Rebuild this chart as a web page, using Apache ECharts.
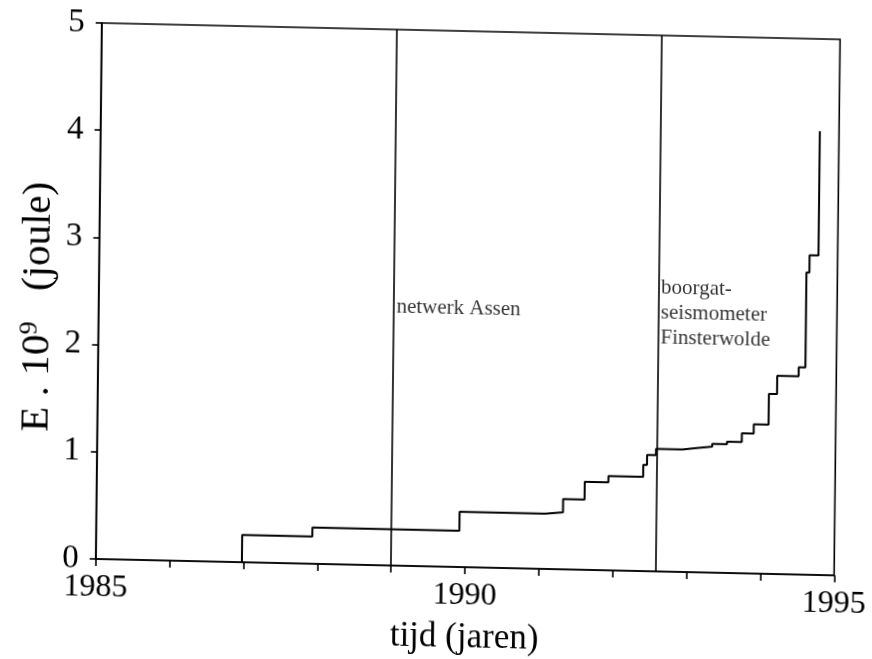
<!DOCTYPE html>
<html>
<head>
<meta charset="utf-8">
<script src="https://cdn.jsdelivr.net/npm/echarts@6/dist/echarts.min.js"></script>
<style>
  html, body { margin: 0; padding: 0; background: #fff; overflow: hidden; }
  /* the printed figure sits slightly askew on the page */
  #chart {
    position: absolute; left: 0; top: 0; width: 872px; height: 659px;
    transform-origin: 95.7px 559px;
    transform: matrix(1, 0.0222, -0.0112, 1, 0, 0);
  }
</style>
</head>
<body>
<div id="chart"></div>
<script>
// cumulative seismic energy: each entry starts a new level (year, E in 10^9 J)
const stepYears = [1986.98, 1986.98, 1987.93, 1989.92, 1991.08, 1991.32, 1991.61, 1991.93,
                   1992.40, 1992.45, 1992.57, 1992.93, 1993.12, 1993.33, 1993.53, 1993.73,
                   1993.89, 1994.09, 1994.20, 1994.49, 1994.58, 1994.62, 1994.74];
const stepEnergy = [0, 0.255, 0.337, 0.516, 0.532, 0.655, 0.82, 0.88,
                    0.99, 1.084, 1.143, 1.16, 1.176, 1.2, 1.225, 1.306,
                    1.393, 1.679, 1.85, 1.934, 2.82, 2.98, 4.14];

// network changes marked by vertical lines
const markerYears = [1989.0, 1992.58];
const markerLabels = ['netwerk Assen', 'boorgat-\nseismometer\nFinsterwolde'];
const markerLabelLevel = 2.41;

const xLabelYears = [1985, 1990, 1995];
const yTicks = [0, 1, 2, 3, 4, 5];

const serif = '"Liberation Serif", "Times New Roman", serif';
const black = '#000';

const chart = echarts.init(document.getElementById('chart'), null, { renderer: 'canvas' });

chart.setOption({
  animation: false,
  backgroundColor: 'transparent',
  grid: {
    left: 95.7, right: 37.7, top: 23, bottom: 100,
    show: true, borderColor: black, borderWidth: 1.6
  },
  xAxis: {
    type: 'value', min: 1985, max: 1995, interval: 1,
    axisLine: { onZero: false, lineStyle: { color: black, width: 1.6 } },
    axisTick: { length: 7, lineStyle: { color: black, width: 1.6 } },
    splitLine: { show: false },
    axisLabel: {
      margin: 13, fontSize: 32, fontFamily: serif, color: black,
      formatter: v => xLabelYears.includes(v) ? String(v) : ''
    },
    name: 'tijd (jaren)', nameLocation: 'middle', nameGap: 53,
    nameTextStyle: { fontSize: 35, fontFamily: serif, color: black }
  },
  yAxis: {
    type: 'value', min: yTicks[0], max: yTicks[yTicks.length - 1], interval: 1,
    axisLine: { lineStyle: { color: black, width: 1.6 } },
    axisTick: { length: 6, lineStyle: { color: black, width: 1.6 } },
    splitLine: { show: false },
    axisLabel: { margin: 17, fontSize: 33, fontFamily: serif, color: black }
  },
  graphic: [{
    type: 'text',
    x: 35, y: 308,
    rotation: Math.PI / 2,
    style: {
      text: 'E . 10{s|9}   (joule)',
      font: '41px ' + serif,
      fill: black,
      align: 'center',
      verticalAlign: 'middle',
      lineHeight: 42,
      rich: {
        s: { fontSize: 26, fontFamily: serif, verticalAlign: 'top', lineHeight: 42, fill: black }
      }
    }
  }],
  series: [
    {
      type: 'line',
      step: 'end',
      showSymbol: false,
      symbol: 'none',
      data: stepYears.map((y, i) => [y, stepEnergy[i]]),
      lineStyle: { color: black, width: 2 },
      markLine: {
        silent: true,
        symbol: ['none', 'none'],
        label: { show: false },
        lineStyle: { color: black, width: 1.6, type: 'solid' },
        data: markerYears.map(x => ({ xAxis: x }))
      }
    },
    {
      type: 'scatter',
      symbolSize: 1,
      itemStyle: { color: 'transparent' },
      data: markerYears.map((x, i) => ({ value: [x, markerLabelLevel], name: markerLabels[i] })),
      label: {
        show: true, position: 'right', distance: 2,
        formatter: '{b}',
        fontSize: 21, lineHeight: 25, fontFamily: serif, color: black
      }
    }
  ]
});
</script>
</body>
</html>
